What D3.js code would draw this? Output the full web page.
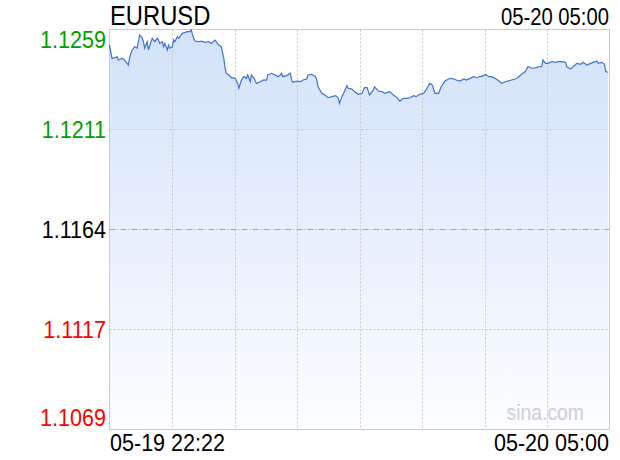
<!DOCTYPE html>
<html><head><meta charset="utf-8">
<script src="https://cdn.jsdelivr.net/npm/d3@7/dist/d3.min.js"></script>
<style>
html,body{margin:0;padding:0;background:#fff;}
svg text{font-family:"Liberation Sans",Arial,Helvetica,sans-serif;}
</style></head>
<body><svg id="c" width="620" height="460"></svg>
<script>
const title = "EURUSD";
const stamp = "05-20 05:00";
const xLabels = ["05-19 22:22", "05-20 05:00"];
const yTickLabels = ["1.1259", "1.1211", "1.1164", "1.1117", "1.1069"];
const yTickValues = [1.1259, 1.12115, 1.1164, 1.11165, 1.1069];
const prevClose = 1.1164;
const totalMinutes = 398;
const minutes = [
 0,2,4,6,7,10,12,15,16,18,
 20,22,24,26,27,28,30,31,34,36,
 38,39,40,42,43,44,46,47,48,50,
 51,52,54,55,58,62,64,65,67,68,
 71,73,76,79,81,84,87,89,91,92,
 93,95,97,100,102,103,105,107,109,110,
 112,113,115,117,120,122,125,126,129,132,
 134,136,137,138,141,144,145,146,149,152,
 154,157,158,161,164,165,166,169,172,174,
 177,180,182,183,185,187,189,190,193,195,
 198,201,203,205,207,210,211,214,217,219,
 223,226,229,231,234,237,239,242,244,247,
 250,252,255,257,259,262,264,267,271,274,
 276,279,282,284,287,290,292,295,298,299,
 302,304,307,310,312,315,317,320,323,325,
 328,331,333,335,337,340,341,344,345,347,
 349,352,355,357,360,363,364,367,369,372,
 375,377,380,383,385,388,389,392,394,395,
 397];
const prices = [
 1.12516,1.12453,1.12455,1.12461,1.12445,1.12453,1.12445,1.12421,1.12455,1.12493,
 1.12508,1.12502,1.12564,1.12550,1.12532,1.12502,1.12532,1.12493,1.12548,1.12532,
 1.12548,1.12540,1.12524,1.12532,1.12508,1.12524,1.12493,1.12516,1.12501,1.12508,
 1.12540,1.12532,1.12556,1.12548,1.12572,1.12580,1.12580,1.12588,1.12548,1.12535,
 1.12532,1.12535,1.12529,1.12532,1.12524,1.12540,1.12516,1.12508,1.12453,1.12406,
 1.12382,1.12374,1.12361,1.12358,1.12334,1.12311,1.12350,1.12366,1.12358,1.12374,
 1.12342,1.12374,1.12358,1.12334,1.12342,1.12350,1.12350,1.12374,1.12382,1.12374,
 1.12366,1.12374,1.12382,1.12366,1.12371,1.12382,1.12350,1.12339,1.12345,1.12342,
 1.12350,1.12355,1.12374,1.12377,1.12366,1.12350,1.12318,1.12287,1.12276,1.12266,
 1.12271,1.12276,1.12266,1.12239,1.12271,1.12295,1.12323,1.12311,1.12307,1.12295,
 1.12282,1.12287,1.12314,1.12314,1.12279,1.12303,1.12318,1.12298,1.12295,1.12287,
 1.12295,1.12279,1.12266,1.12250,1.12263,1.12263,1.12266,1.12276,1.12271,1.12282,
 1.12287,1.12303,1.12334,1.12326,1.12287,1.12287,1.12318,1.12345,1.12358,1.12355,
 1.12350,1.12345,1.12355,1.12350,1.12358,1.12366,1.12361,1.12366,1.12371,1.12377,
 1.12366,1.12366,1.12358,1.12345,1.12334,1.12342,1.12345,1.12350,1.12355,1.12361,
 1.12377,1.12390,1.12413,1.12409,1.12406,1.12409,1.12413,1.12413,1.12445,1.12429,
 1.12429,1.12437,1.12434,1.12437,1.12437,1.12434,1.12413,1.12402,1.12413,1.12429,
 1.12425,1.12434,1.12421,1.12429,1.12434,1.12440,1.12429,1.12434,1.12425,1.12390,
 1.12387];

const data = minutes.map((m, i) => ({m, p: prices[i]}));
const svg = d3.select("#c");
const L = 109.5, R = 609.5, T = 29.5, B = 429.5;
const x = d3.scaleLinear().domain([0, totalMinutes]).range([L, R]);
const y = d3.scaleLinear().domain([yTickValues[4], yTickValues[0]]).range([B, T]);

const defs = svg.append("defs");
const g = defs.append("linearGradient").attr("id","fill").attr("gradientUnits","userSpaceOnUse")
  .attr("x1",0).attr("x2",0).attr("y1",T).attr("y2",B);
g.append("stop").attr("offset","0%").attr("stop-color","#d3e2fa");
g.append("stop").attr("offset","100%").attr("stop-color","#fcfdff");

svg.append("path").datum(data)
  .attr("d", d3.area().x(d=>x(d.m)).y0(B).y1(d=>y(d.p)))
  .attr("fill","url(#fill)");

const vx = d3.range(1, 8).map(i => totalMinutes * i / 8);
svg.selectAll(".vg").data(vx).enter().append("line")
  .attr("x1", d=>Math.round(x(d))+0.5).attr("x2", d=>Math.round(x(d))+0.5)
  .attr("y1", T).attr("y2", B)
  .attr("stroke","#c8c8c8").attr("stroke-dasharray","2,2");
[yTickValues[1], yTickValues[3]].forEach(v => {
  svg.append("line").attr("x1",L).attr("x2",R).attr("y1",Math.round(y(v))+0.5).attr("y2",Math.round(y(v))+0.5)
    .attr("stroke","#c8c8c8").attr("stroke-dasharray","2,2");
});
svg.append("line").attr("x1",L).attr("x2",R).attr("y1",Math.round(y(prevClose))+0.5).attr("y2",Math.round(y(prevClose))+0.5)
  .attr("stroke","#9aa3b8").attr("stroke-dasharray","6,2,1,2");

svg.append("rect").attr("x",L).attr("y",T).attr("width",R-L).attr("height",B-T)
  .attr("fill","none").attr("stroke","#cccccc");

svg.append("path").datum(data)
  .attr("d", d3.line().x(d=>x(d.m)).y(d=>y(d.p)))
  .attr("fill","none").attr("stroke","#4272d0").attr("stroke-width",1.2);

const SX = 0.88;
function label(tx, ty, size, anchor, color, t) {
  svg.append("text").attr("transform", `translate(${tx},${ty}) scale(${SX},1)`)
    .attr("font-size", size).attr("text-anchor", anchor).attr("fill", color).text(t);
}
const colors = ["#00a000","#00a000","#000000","#ff0000","#ff0000"];
const offs = [10, 0, 0, 0, -12];
yTickLabels.forEach((t,i) => {
  label(106, y(yTickValues[i]) + offs[i] + 8.5, 24.5, "end", colors[i], t);
});
label(110, 25, 27, "start", "#000", title);
label(609, 25, 23, "end", "#000", stamp);
label(110, 451, 24.5, "start", "#000", xLabels[0]);
label(609, 451, 24.5, "end", "#000", xLabels[1]);
label(584, 420, 22, "end", "#cfcfcf", "sina.com");
</script></body></html>
